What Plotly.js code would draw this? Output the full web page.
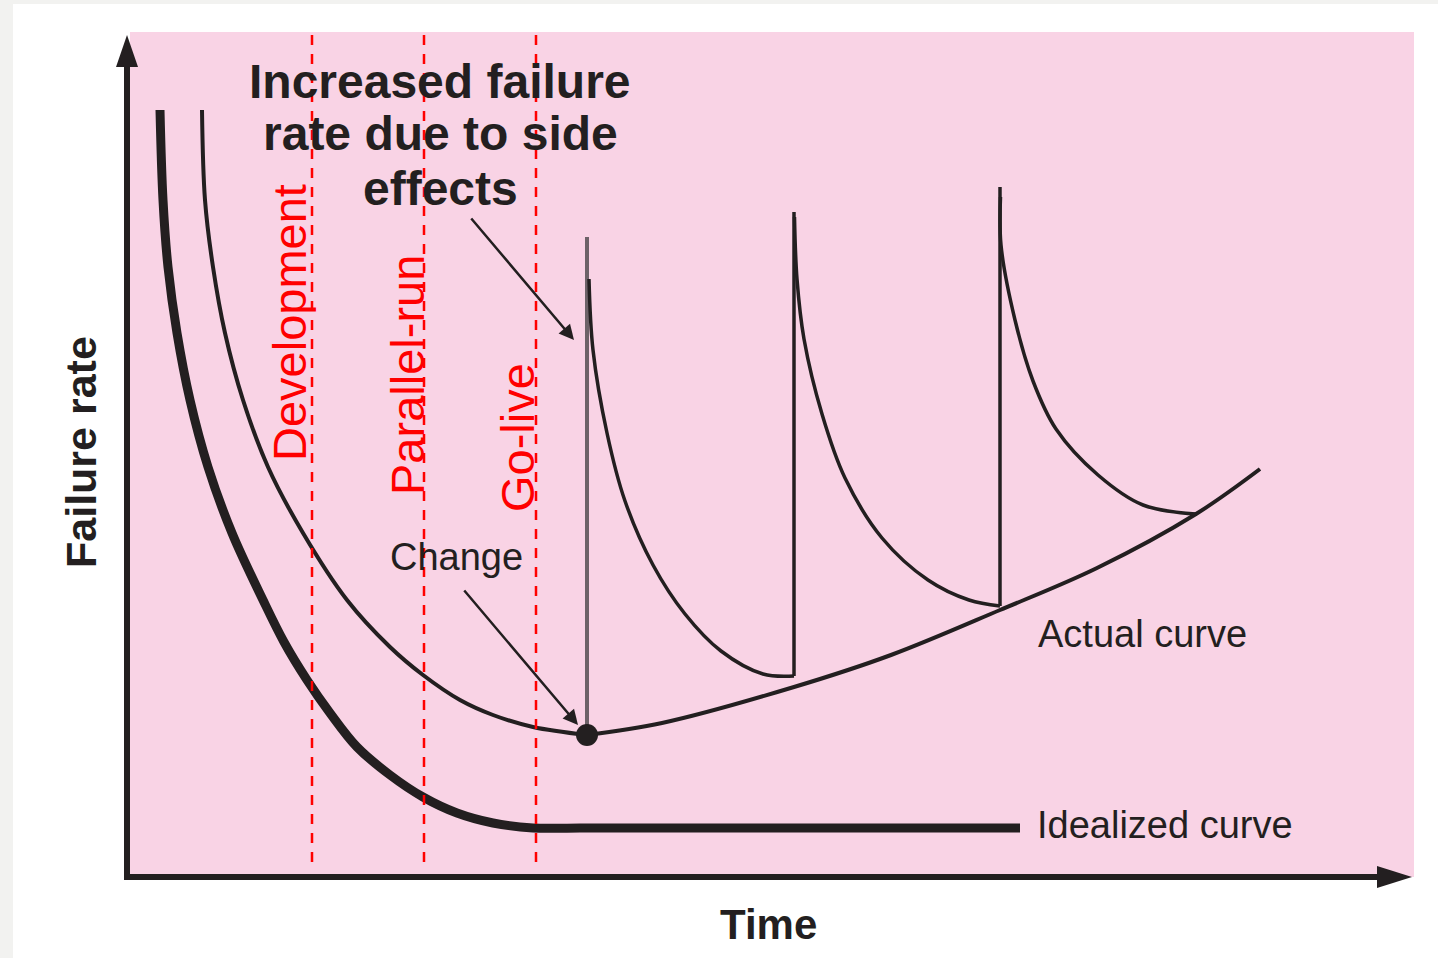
<!DOCTYPE html>
<html>
<head>
<meta charset="utf-8">
<script src="https://cdn.plot.ly/plotly-3.0.1.min.js"></script>
<style>
  html, body { margin: 0; padding: 0; background: #ffffff; }
  #chart { width: 1438px; height: 958px; }
</style>
</head>
<body>
<div id="chart"></div>
<script>
// ---- Data (time vs failure rate, arbitrary units) ----
const idealTime = [30, 33, 38, 47, 60, 78, 102, 133, 154, 177, 200, 227, 260, 293, 327, 363, 403, 450, 570, 730, 890];
const idealRate = [767, 677, 610, 544, 477, 410, 344, 277, 235, 197, 164, 130, 102, 80, 64, 54, 49, 49, 49, 49, 49];

const actualTime = [72, 75, 83, 95, 113, 138, 173, 217, 260, 293, 330, 363, 403, 457];
const actualRate = [767, 677, 610, 544, 477, 410, 344, 277, 230, 202, 177, 162, 150, 142];

const riseTime = [457, 532, 664, 761, 870, 967, 1066, 1130];
const riseRate = [142, 154, 190, 222, 267, 309, 363, 408];

const changeTime = [457];
const changeRate = [142];

const spike1Time = [457, 457];
const spike1Rate = [142, 640];
const spike2Time = [664, 664];
const spike2Rate = [201, 665];
const spike3Time = [870, 870];
const spike3Rate = [271, 690];

const decay1Time = [459, 463, 477, 495, 523, 555, 591, 633, 664];
const decay1Rate = [598, 527, 444, 376, 312, 263, 226, 203, 201];
const decay2Time = [664.5, 667, 674, 692, 715, 752, 798, 839, 870];
const decay2Rate = [660, 598, 538, 463, 399, 339, 297, 277, 271];
const decay3Time = [870.5, 871, 885, 903, 926, 968, 1013, 1066];
const decay3Rate = [680, 632, 557, 496, 448, 402, 372, 363];

const phaseTime = [182, 294, 406];
const phaseLabels = ["Development", "Parallel-run", "Go-live"];
const phaseLabelTime = [159, 277, 387];
const phaseLabelRate = [554, 502, 439];

const titleLines = ["Increased failure", "rate due to side", "effects"];
const titleRate = [796, 744, 689];

// ---- Layout geometry ----
const L = 110, T = 32, W = 1304, H = 861;
const px2p = px => (px - L) / W;
const py2p = py => (T + H - py) / H;

const INK = "#231f20";
const PINK = "#f9d3e5";
const RED = "#ff0000";

function line(x, y, w, color, shape) {
  return { x: x, y: y, type: "scatter", mode: "lines", hoverinfo: "skip",
           line: { color: color || INK, width: w, shape: shape || "spline", smoothing: 1, simplify: false } };
}

const traces = [
  line(idealTime, idealRate, 9, INK),
  line(actualTime, actualRate, 4, INK),
  line(riseTime, riseRate, 4, INK),
  line(spike1Time, spike1Rate, 4, "#6d6268", "linear"),
  line(spike2Time, spike2Rate, 3.5, INK, "linear"),
  line(spike3Time, spike3Rate, 3.5, INK, "linear"),
  line(decay1Time, decay1Rate, 3.5, INK),
  line(decay2Time, decay2Rate, 3.5, INK),
  line(decay3Time, decay3Rate, 3.5, INK),
  { x: changeTime, y: changeRate, type: "scatter", mode: "markers", hoverinfo: "skip",
    marker: { color: INK, size: 22 } }
];

const shapes = [
  // pink plotting field
  { type: "rect", xref: "x", yref: "y", x0: 0, x1: 1284, y0: 0, y1: 845,
    fillcolor: PINK, line: { width: 0 }, layer: "below" },
  // grey page strips
  { type: "rect", xref: "paper", yref: "paper", x0: px2p(0), x1: px2p(13), y0: py2p(958), y1: py2p(0),
    fillcolor: "#f2f2f0", line: { width: 0 }, layer: "below" },
  { type: "rect", xref: "paper", yref: "paper", x0: px2p(0), x1: px2p(1438), y0: py2p(4), y1: py2p(0),
    fillcolor: "#f2f2f0", line: { width: 0 }, layer: "below" },
  // axes
  { type: "line", xref: "x", yref: "y", x0: -3, x1: -3, y0: -3, y1: 815, line: { color: INK, width: 6 } },
  { type: "path", xref: "x", yref: "y", path: "M -3 842 L -14 810 L 8 810 Z", fillcolor: INK, line: { width: 0 } },
  { type: "line", xref: "x", yref: "y", x0: -6, x1: 1252, y0: 0, y1: 0, line: { color: INK, width: 6 } },
  { type: "path", xref: "x", yref: "y", path: "M 1282 0 L 1247 11 L 1247 -11 Z", fillcolor: INK, line: { width: 0 } }
];
phaseTime.forEach(t => shapes.push({
  type: "line", xref: "x", yref: "y", x0: t, x1: t, y0: 842, y1: 9, layer: "above",
  line: { color: RED, width: 2.5, dash: "10px,9px" }
}));

const annotations = [];
titleLines.forEach((s, i) => annotations.push({
  text: s, x: 310, y: titleRate[i], xref: "x", yref: "y", showarrow: false,
  xanchor: "center", yanchor: "middle",
  font: { family: "Liberation Sans, Arial, sans-serif", size: 48, color: INK, weight: "bold" }
}));
phaseLabels.forEach((s, i) => annotations.push({
  text: s, x: phaseLabelTime[i], y: phaseLabelRate[i], xref: "x", yref: "y", showarrow: false,
  textangle: -90, xanchor: "center", yanchor: "middle",
  font: { family: "Liberation Sans, Arial, sans-serif", size: 47, color: RED }
}));
const lab = { family: "Liberation Sans, Arial, sans-serif", size: 38, color: INK };
annotations.push(
  { text: "Change", x: 326, y: 320, xref: "x", yref: "y", showarrow: false, font: lab },
  { text: "Actual curve", x: 906, y: 243, xref: "x", yref: "y", showarrow: false, xanchor: "left", font: lab },
  { text: "Idealized curve", x: 905, y: 52, xref: "x", yref: "y", showarrow: false, xanchor: "left", font: lab },
  // arrows
  { text: "", x: 448, y: 152, ax: 333, ay: 288, axref: "x", ayref: "y", xref: "x", yref: "y",
    showarrow: true, arrowhead: 2, arrowsize: 1.2, arrowwidth: 2.5, arrowcolor: INK },
  { text: "", x: 444, y: 537, ax: 340, ay: 660, axref: "x", ayref: "y", xref: "x", yref: "y",
    showarrow: true, arrowhead: 2, arrowsize: 1.2, arrowwidth: 2.5, arrowcolor: INK },
  // axis titles
  { text: "Failure rate", xref: "paper", yref: "y", x: px2p(81), y: 425, textangle: -90, showarrow: false,
    xanchor: "center", yanchor: "middle",
    font: { family: "Liberation Sans, Arial, sans-serif", size: 43, color: INK, weight: "bold" } },
  { text: "Time", xref: "x", yref: "paper", x: 638, y: py2p(925), showarrow: false,
    xanchor: "center", yanchor: "middle",
    font: { family: "Liberation Sans, Arial, sans-serif", size: 42, color: INK, weight: "bold" } }
);

const layout = {
  width: 1438, height: 958,
  margin: { l: L, r: 1438 - L - W, t: T, b: 958 - T - H, pad: 0 },
  paper_bgcolor: "#ffffff", plot_bgcolor: "#ffffff",
  showlegend: false,
  xaxis: { range: [-20, 1284], visible: false, fixedrange: true },
  yaxis: { range: [-16, 845], visible: false, fixedrange: true },
  shapes: shapes,
  annotations: annotations
};

Plotly.newPlot("chart", traces, layout, { displayModeBar: false, staticPlot: true });
</script>
</body>
</html>
